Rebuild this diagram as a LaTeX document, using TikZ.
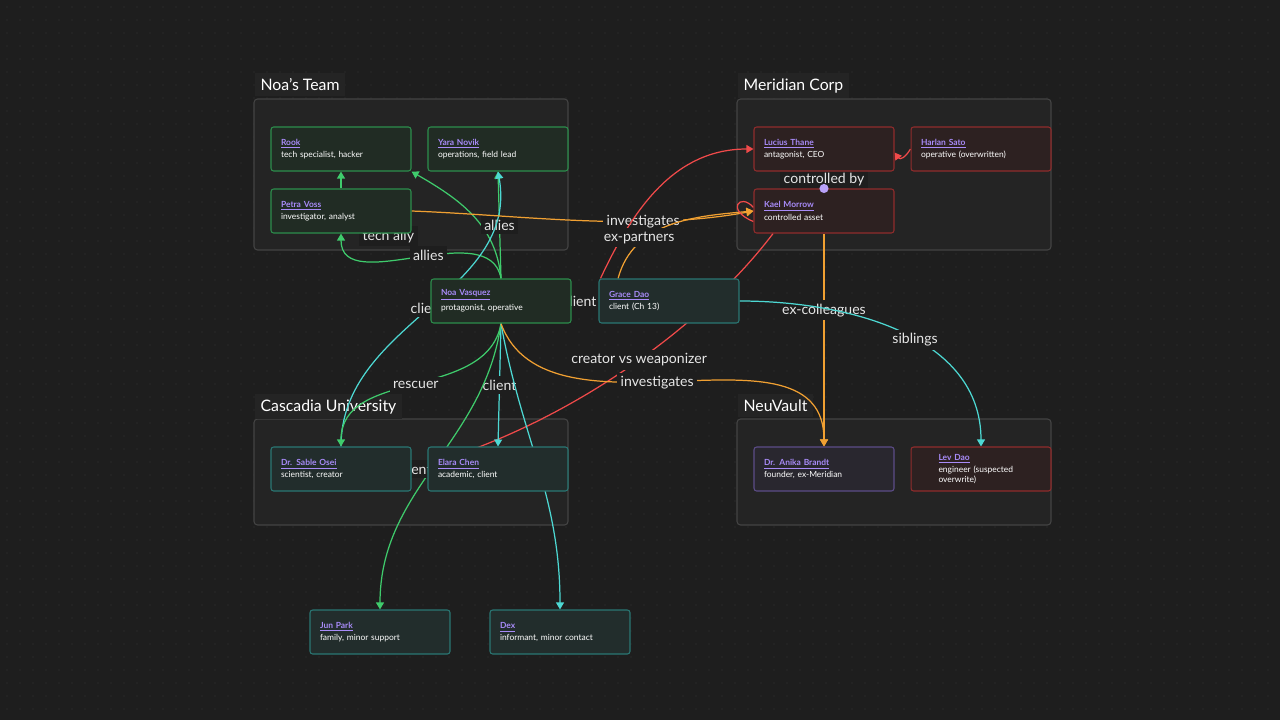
\documentclass[tikz,border=0pt]{standalone}
\usepackage{fontspec}
\setmainfont{Lato}
\usetikzlibrary{arrows.meta,positioning}
\pgfdeclarelayer{canvas}
\pgfdeclarelayer{groups}
\pgfdeclarelayer{edges}
\pgfsetlayers{canvas,groups,edges,main}
\definecolor{bgc}{HTML}{1E1E1E}
\definecolor{dotc}{HTML}{343434}
\definecolor{grpc}{HTML}{242424}
\definecolor{grpline}{HTML}{444444}
\definecolor{grn}{HTML}{3FCB6C}
\definecolor{cyn}{HTML}{4DD8D3}
\definecolor{org}{HTML}{F0A032}
\definecolor{rd}{HTML}{F04A4A}
\definecolor{ttl}{HTML}{A88BF8}
\definecolor{lbltxt}{HTML}{E6E6E6}
\newcommand{\who}[2]{{\bfseries\color{ttl}\underline{#1}}\\[1pt]#2}
\begin{document}
\begin{tikzpicture}[
        x=0.02cm, y=-0.02cm,
        person/.style={rectangle, rounded corners=1.5pt, line width=0.6pt, minimum width=2.8cm,
            minimum height=0.88cm, text width=2.4cm, align=left, text=white, font=\fontsize{4.8}{6}\selectfont},
        teamNode/.style={person, draw=grn!70!black, fill=grn!8!bgc},
        tealNode/.style={person, draw=cyn!55!black, fill=cyn!8!bgc},
        corpNode/.style={person, draw=rd!60!black, fill=rd!7!bgc},
        vaultNode/.style={person, draw=ttl!55!black, fill=ttl!8!bgc},
        group/.style={draw=grpline, fill=grpc, rounded corners=2pt, line width=0.6pt},
        groupTitle/.style={fill=grpc, text=white!75, font=\fontsize{9}{10}\selectfont, anchor=north west, inner sep=3pt},
        rel/.style={line width=0.7pt, -{Triangle[length=4pt,width=4.5pt]}},
        lbl/.style={fill=bgc, text=lbltxt, font=\fontsize{8}{9}\selectfont, inner sep=2pt}
    ]
        % Canvas and dot grid
        \begin{pgfonlayer}{canvas}
            \fill[bgc] (0,0) rectangle (1280,720);
            \foreach \gx in {7,20,...,1280} {
                \foreach \gy in {7,20,...,720} {
                    \fill[dotc] (\gx,\gy) circle (0.4pt);
                }
            }
        \end{pgfonlayer}
        \useasboundingbox (0,0) rectangle (1280,720);

        % Groups
        \begin{pgfonlayer}{groups}
            \draw[group] (254,99) rectangle (568,250);
            \draw[group] (737,99) rectangle (1051,250);
            \draw[group] (254,419) rectangle (568,525);
            \draw[group] (737,419) rectangle (1051,525);
            \node[groupTitle] (tNoa) at (255,73) {Noa's Team};
            \node[groupTitle] (tMer) at (738,73) {Meridian Corp};
            \node[groupTitle] (tCas) at (255,394) {Cascadia University};
            \node[groupTitle] (tNeu) at (738,394) {NeuVault};
        \end{pgfonlayer}

        % People
        \node[teamNode] (rook) at (341,149) {\who{Rook}{tech specialist, hacker}};
        \node[teamNode] (yara) at (498,149) {\who{Yara Novik}{operations, field lead}};
        \node[teamNode] (petra) at (341,211) {\who{Petra Voss}{investigator, analyst}};
        \node[teamNode] (noa) at (501,301) {\who{Noa Vasquez}{protagonist, operative}};
        \node[tealNode] (grace) at (669,301) {\who{Grace Dao}{client (Ch 13)}};
        \node[corpNode] (lucius) at (824,149) {\who{Lucius Thane}{antagonist, CEO}};
        \node[corpNode] (harlan) at (981,149) {\who{Harlan Sato}{operative (overwritten)}};
        \node[corpNode] (kael) at (824,211) {\who{Kael Morrow}{controlled asset}};
        \node[tealNode] (sable) at (341,469) {\who{Dr. Sable Osei}{scientist, creator}};
        \node[tealNode] (elara) at (498,469) {\who{Elara Chen}{academic, client}};
        \node[vaultNode] (anika) at (824,469) {\who{Dr. Anika Brandt}{founder, ex-Meridian}};
        \node[corpNode, text width=1.7cm] (lev) at (981,469) {\who{Lev Dao}{engineer (suspected overwrite)}};
        \node[tealNode] (jun) at (380,632) {\who{Jun Park}{family, minor support}};
        \node[tealNode] (dex) at (560,632) {\who{Dex}{informant, minor contact}};
        \fill[ttl!80!white] (kael.north) circle (2.6pt);

        % Edges
        \begin{pgfonlayer}{edges}
            \draw[rel, grn] (petra.north) -- (rook.south);
            \draw[rel, grn] (noa.north) to[out=95, in=-30] node[lbl, pos=0.35, xshift=-55, yshift=-3]{tech ally} (rook.south east);
            \draw[rel, grn] (noa.north) -- node[lbl]{allies} (yara.south);
            \draw[rel, grn] (noa.north) to[out=100, in=-90] node[lbl, pos=0.45]{allies} (petra.south);
            \draw[rel, cyn] (sable.north) to[out=90, in=-80] node[lbl, pos=0.5]{client} (yara.south);
            \draw[rel, org] (petra.east) .. controls (520,215) and (640,232) .. node[lbl, pos=0.68]{investigates} (kael.west);
            \draw[rel, org] ([xshift=-29]grace.north) to[out=75, in=185] (kael.west);
            \draw[rel, rd] ([xshift=-39]grace.north) to[out=65, in=180] node[lbl, pos=0.2, xshift=10]{ex-partners} (lucius.west);
            \draw[rd, line width=0.7pt] ([yshift=-6]kael.west) .. controls (725,210) and (740,192) .. ([yshift=2]kael.west);
            \draw[rel, rd] (harlan.west) .. controls (905,158) and (900,160) .. ([yshift=-2]lucius.east);
            \draw[rd, line width=0.7pt] (kael.north) -- node[lbl]{controlled by} (lucius.south);
            \draw[rel, org] (kael.south) -- node[lbl, pos=0.36]{ex-colleagues} (anika.north);
            \draw[rel, cyn] (grace.east) to[out=0, in=90] node[lbl, pos=0.55]{siblings} (lev.north);
            \draw[rd, line width=0.7pt] (sable.east) .. controls (560,430) and (700,330) .. node[lbl, pos=0.55]{creator vs weaponizer} ([xshift=-29]kael.south);
            \draw[rel, grn] (noa.south) to[out=-100, in=90] node[lbl, pos=0.5]{rescuer} (sable.north);
            \draw[rel, cyn] (noa.south) -- node[lbl]{client} (elara.north);
            \draw[rel, grn] (noa.south) to[out=-98, in=90] (jun.north);
            \draw[rel, cyn] (noa.south) to[out=-80, in=90] (dex.north);
            \draw[rel, org] (noa.south) to[out=-70, in=90] node[lbl, pos=0.45]{investigates} (anika.north);
            \draw[cyn, line width=0.7pt] (noa.east) -- node[lbl, pos=0.3]{client} (grace.west);
            \draw[cyn, line width=0.7pt] (sable.east) -- node[lbl, pos=0.2]{client} (elara.west);
        \end{pgfonlayer}
    \end{tikzpicture}
\end{document}
